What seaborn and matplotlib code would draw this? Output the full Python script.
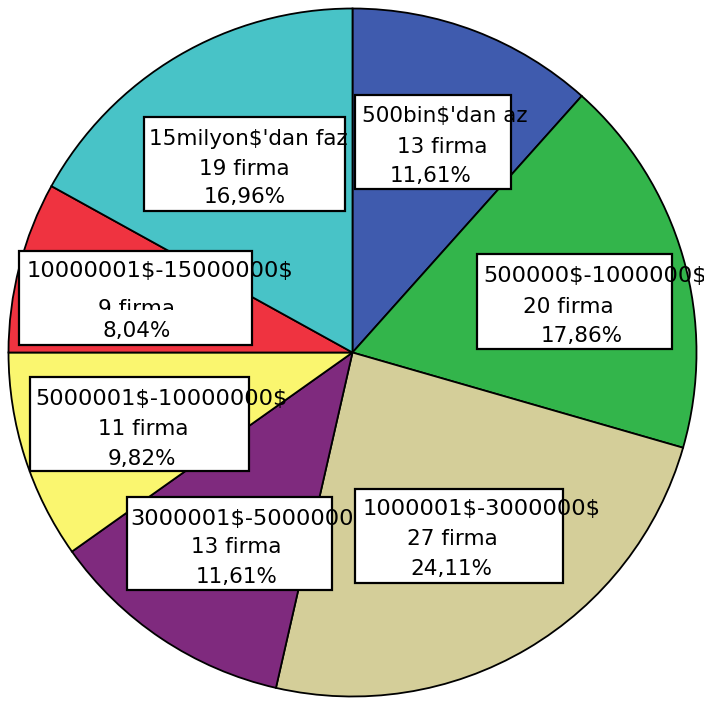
import matplotlib
matplotlib.use("Agg")
import matplotlib.pyplot as plt
from matplotlib.patches import Rectangle
import seaborn as sns

sns.set_theme(style="white")
plt.rcParams["font.family"] = ["DejaVu Sans"]
plt.rcParams["text.parse_math"] = False

# Firm counts per revenue bracket (clockwise from 12 o'clock)
categories = [
    "500bin$'dan az",
    "500000$-1000000$",
    "1000001$-3000000$",
    "3000001$-5000000$",
    "5000001$-10000000$",
    "10000001$-15000000$",
    "15milyon$'dan faz",
]
counts = [13, 20, 27, 13, 11, 9, 19]
percent_labels = ["11,61%", "17,86%", "24,11%", "11,61%", "9,82%", "8,04%", "16,96%"]
colors = ["#3F5BAE", "#33B54B", "#D4CE99", "#7F2A7E", "#FAF66F", "#EF3340", "#48C3C7"]

fig = plt.figure(figsize=(7.04, 7.04), dpi=100)
ax = fig.add_axes([0, 0, 1, 1])

# Axes in pixel-like units with y pointing down
ax.pie(
    counts,
    colors=colors,
    startangle=-90,
    counterclock=True,
    center=(352.5, 352.5),
    radius=344,
    wedgeprops=dict(edgecolor="black", linewidth=1.3),
)
ax.set_xlim(0, 704)
ax.set_ylim(704, 0)
ax.set_aspect("equal")
ax.axis("off")

# Label box layout: (box left, top, right, bottom), line-1 start x,
# centre x for lines 2-3, baselines of the three lines
layout = {
    6: ((144, 117, 345, 211), 149, (244, 245), (145, 175, 203)),
    0: ((355, 95, 511, 189), 362, (442, 431), (122, 153, 182)),
    1: ((477, 254, 672, 349), 483, (568, 582), (282, 313, 342)),
    5: ((19, 251, 252, 345), 27, (136, 137), (277, 315, 337)),
    4: ((30, 377, 249, 471), 35, (143, 142), (405, 435, 465)),
    3: ((127, 497, 332, 590), 130, (236, 237), (525, 553, 583)),
    2: ((355, 489, 563, 583), 363, (452, 451), (515, 545, 575)),
}

fs = 15.5
z = 5
for idx, (box, x1, (xc2, xc3), (b1, b2, b3)) in layout.items():
    l, t, r, b = box
    ax.add_patch(Rectangle((l, t), r - l, b - t, facecolor="white",
                           edgecolor="black", linewidth=1.6, zorder=z))
    # bracket names are mostly digits, which run a little wider
    fs1 = 16.2 if "-" in categories[idx] else fs
    ax.text(x1, b1, categories[idx], ha="left", va="baseline",
            fontsize=fs1, color="black", zorder=z + 1)
    ax.text(xc2, b2, f"{counts[idx]} firma", ha="center", va="baseline",
            fontsize=fs, color="black", zorder=z + 1)
    if b3 - b2 < 26:
        # the last line's background overlaps the tightly spaced line above
        ax.add_patch(Rectangle((xc3 - 60, b2 - 5), 120, b3 - b2 - 8,
                               facecolor="white", edgecolor="none", zorder=z + 2))
    ax.text(xc3, b3, percent_labels[idx], ha="center", va="baseline",
            fontsize=fs, color="black", zorder=z + 2)
    z += 3

fig.savefig("out.png", dpi=100, facecolor="white")
